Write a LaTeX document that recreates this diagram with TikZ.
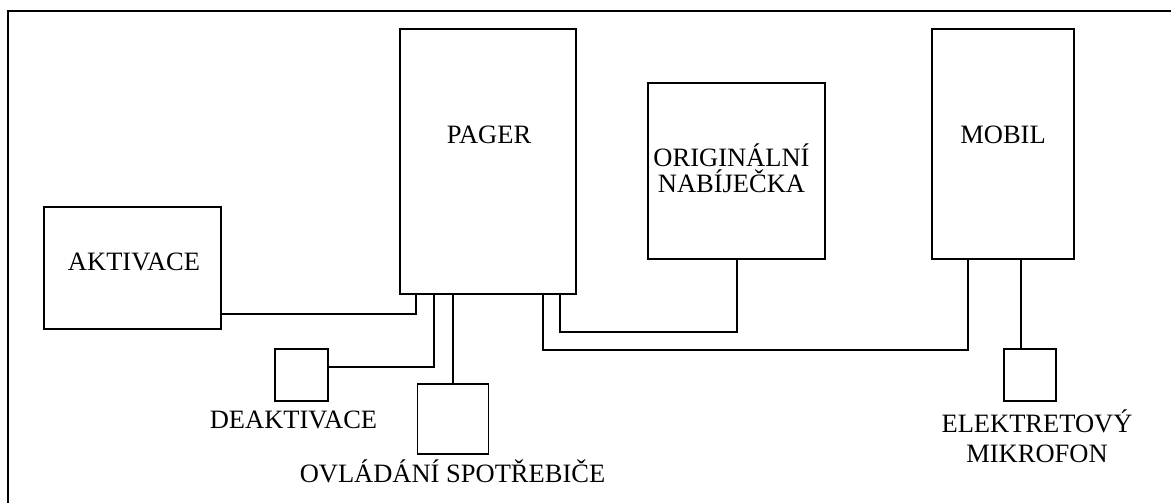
\documentclass[tikz,border=0pt]{standalone}
\usepackage{fontspec}
\setmainfont{Liberation Serif}
\usetikzlibrary{calc}
\begin{document}
\begin{tikzpicture}[x=1pt,y=-1pt,
  block/.style={draw, line width=1.8pt, inner sep=0pt},
  wire/.style={draw, line width=1.8pt},
  lbl/.style={inner sep=0pt, anchor=base, font=\fontsize{26.5}{30}\selectfont}]
\useasboundingbox (0,0) rectangle (1171,503);

% outer frame
\draw[line width=1.8pt] (8,11) rectangle (1200,530);

% blocks
\node[block, minimum width=176pt, minimum height=265pt] (pager) at (488,161.5) {};
\node[block, minimum width=177pt, minimum height=176pt] (nab)   at (736.5,171) {};
\node[block, minimum width=142pt, minimum height=230pt] (mob)   at (1003,144) {};
\node[block, minimum width=177pt, minimum height=122pt] (akt)   at (132.5,268) {};
\node[block, minimum width=53pt,  minimum height=52pt]  (deak)  at (301.5,375) {};
\node[block, minimum width=71pt,  minimum height=70pt]  (ovl)   at (453,419) {};
\node[block, minimum width=52pt,  minimum height=52pt]  (mic)   at (1030,375) {};

% labels
\node[lbl] (tPager) at (489,143)   {PAGER};
\node[lbl] (tMobil) at (1003,143)  {MOBIL};
\node[lbl] (tOrig)  at (731.5,166) {ORIGINÁLNÍ};
\node[lbl] (tNab)   at (731.5,192) {NABÍJEČKA};
\node[lbl] (tAkt)   at (134,270)   {AKTIVACE};
\node[lbl] (tDeak)  at (293.5,428) {DEAKTIVACE};
\node[lbl] (tOvl)   at (452.5,482) {OVLÁDÁNÍ SPOTŘEBIČE};
\node[lbl] (tEl)    at (1037,432)  {ELEKTRETOVÝ};
\node[lbl] (tMik)   at (1037,462)  {MIKROFON};

% wiring
\draw[wire] ([yshift=16pt]akt.south east) -| ([xshift=17pt]pager.south west);
\draw[wire] ([yshift=8pt]deak.east) -| ([xshift=35pt]pager.south west);
\draw[wire] (ovl.north) -- (ovl.north |- pager.south);
\draw[wire] ([xshift=-17pt]pager.south east) -- ++(0,37) -| ([xshift=0.5pt]nab.south);
\draw[wire] ([xshift=-34pt]pager.south east) -- ++(0,55) -| ([xshift=-35pt]mob.south);
\coordinate (micTap) at ([xshift=18pt]mob.south);
\draw[wire] (micTap) -- (micTap |- mic.north);
\end{tikzpicture}
\end{document}
